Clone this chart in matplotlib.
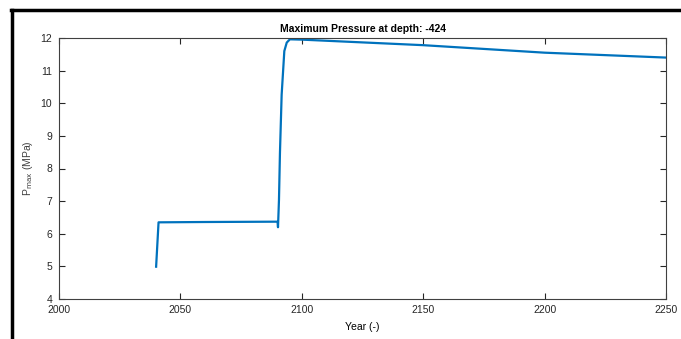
import numpy as np
import matplotlib.pyplot as plt
from matplotlib.lines import Line2D

plt.rcParams['font.family'] = ['Liberation Sans', 'DejaVu Sans']

# maximum pressure history at depth -424
years = [2040, 2041, 2060, 2090, 2090.2, 2090.6, 2091.0, 2091.7, 2092.8, 2093.8, 2095.1,
         2100, 2150, 2200, 2250]
p_max = [4.99, 6.35, 6.36, 6.37, 6.2, 7.04, 8.47, 10.26, 11.6, 11.86, 11.96,
         11.95, 11.78, 11.55, 11.4]

xticks = [2000, 2050, 2100, 2150, 2200, 2250]
yticks = [4, 5, 6, 7, 8, 9, 10, 11, 12]

fig = plt.figure(figsize=(6.81, 3.39), dpi=100)
ax = fig.add_axes([59/681, 1-299/339, (666-59)/681, (299-38)/339])

ax.plot(years, p_max, color='#0072BD', lw=1.6)

ax.set_xlim(2000, 2250)
ax.set_ylim(4, 12)
ax.set_xticks(xticks)
ax.set_yticks(yticks)
ax.tick_params(direction='in', top=True, right=True, length=4, width=0.8,
               labelsize=7.5, colors='#262626')
ax.tick_params(axis='x', pad=4)
ax.tick_params(axis='y', pad=5)
for s in ax.spines.values():
    s.set_color('#404040')
    s.set_linewidth(0.8)

ax.set_title('Maximum Pressure at depth: -424', fontsize=7.5, fontweight='bold', pad=4)
ax.set_xlabel('Year (-)', fontsize=7.5, labelpad=5)
ax.set_ylabel(r'P$_{\mathrm{max}}$ (MPa)', fontsize=7.5, color='#404040', labelpad=4)

# black frame along top and left edge
fig.add_artist(Line2D([11/681, 1], [1-10/339, 1-10/339], color='black', lw=2.5))
fig.add_artist(Line2D([12/681, 12/681], [0, 1-10/339], color='black', lw=2.5))

fig.savefig('out.png', dpi=100)
